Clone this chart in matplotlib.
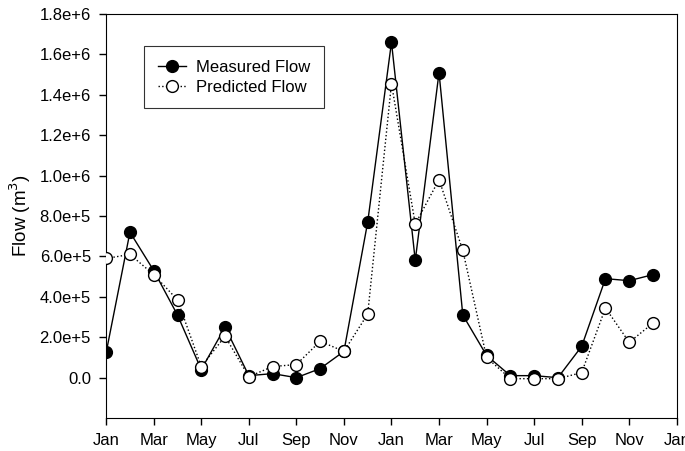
import matplotlib.pyplot as plt
import numpy as np

plt.rcParams['font.family'] = ['Liberation Sans', 'DejaVu Sans']

# months (0 = Jan of first year)
months = np.arange(24)
measured = [1.25e5, 7.2e5, 5.3e5, 3.1e5, 0.4e5, 2.5e5, 0.1e5, 0.2e5, 0.0, 0.45e5, 1.3e5, 7.7e5,
            16.6e5, 5.8e5, 15.1e5, 3.1e5, 1.1e5, 0.1e5, 0.1e5, 0.0, 1.55e5, 4.9e5, 4.8e5, 5.1e5]
predicted = [5.9e5, 6.1e5, 5.1e5, 3.85e5, 0.55e5, 2.05e5, 0.05e5, 0.55e5, 0.65e5, 1.8e5, 1.3e5, 3.15e5,
             14.55e5, 7.6e5, 9.8e5, 6.3e5, 1.0e5, -0.05e5, -0.05e5, -0.05e5, 0.25e5, 3.45e5, 1.75e5, 2.7e5]
tick_labels = ['Jan', 'Mar', 'May', 'Jul', 'Sep', 'Nov', 'Jan', 'Mar', 'May', 'Jul', 'Sep', 'Nov', 'Jan']
yticks = np.arange(0, 1.8e6 + 1, 2e5)

fig = plt.figure(figsize=(6.85, 4.51), dpi=100)
ax = fig.add_axes([0.155, 0.073, 0.833, 0.896])

ax.plot(months, measured, '-', color='black', lw=1.0, marker='o', ms=8.5,
        mfc='black', mec='black', label='Measured Flow', zorder=3)
ax.plot(months, predicted, ':', color='black', lw=1.0, marker='o', ms=8.5,
        mfc='white', mec='black', label='Predicted Flow', zorder=4)

ax.set_xlim(0, 24)
ax.set_ylim(-2e5, 1.8e6)
ax.set_xticks(np.arange(0, 25, 2))
ax.set_xticklabels(tick_labels)
ax.set_yticks(yticks)
ax.set_yticklabels(['0.0'] + ['%.1fe+%d' % (v / 10 ** int(np.floor(np.log10(v))), int(np.floor(np.log10(v))))
                              for v in yticks[1:]])
ax.tick_params(direction='out', length=5, width=1, labelsize=12, pad=6)
ax.set_ylabel('Flow (m$^3$)', fontsize=13.5, labelpad=5)

leg = ax.legend(loc='upper left', bbox_to_anchor=(0.067, 0.92), borderaxespad=0, fontsize=12,
                frameon=True, fancybox=False, edgecolor='black', handlelength=1.7,
                handletextpad=0.6, borderpad=0.8, labelspacing=0.3)
leg.get_frame().set_linewidth(0.8)

fig.savefig('out.png', dpi=100)
